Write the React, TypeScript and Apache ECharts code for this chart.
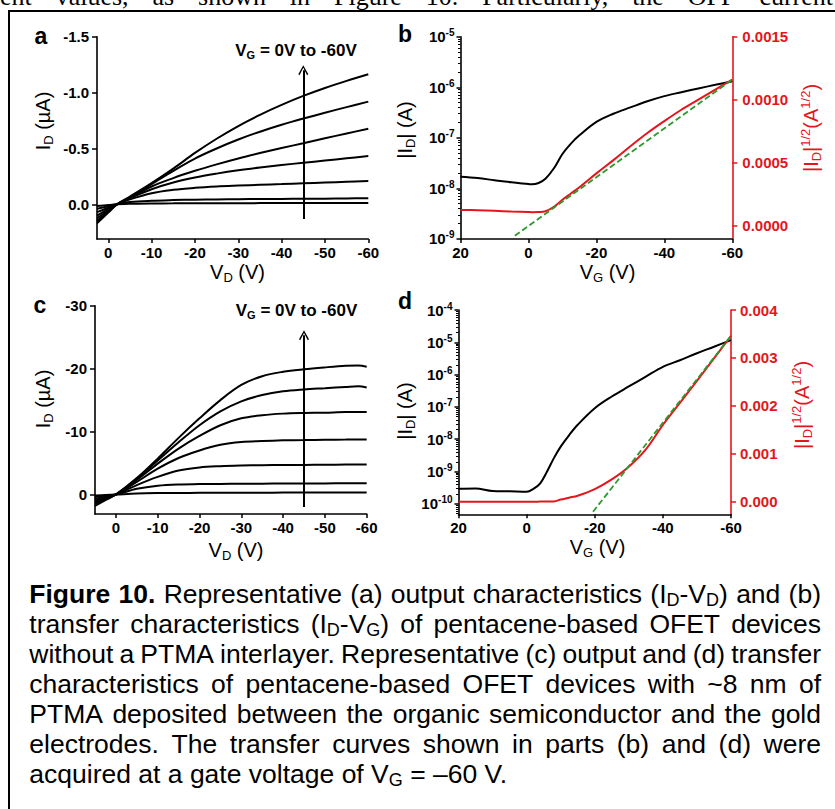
import React, { useEffect, useRef } from 'react';
import * as echarts from 'echarts';

const FONT = '"Liberation Sans", Arial, Helvetica, sans-serif';
const SERIF = '"Liberation Serif", "Times New Roman", serif';
const RED = '#e4161c';
const GREEN = '#2e9a2e';
const BLACK = '#000000';

// ---------- Panel a : output characteristics, no PTMA (I_D µA vs V_D V) ----------
const A_VD = [2.6, 0, -2, -5, -10, -15, -20, -25, -30, -35, -40, -45, -50, -55, -60];
const A_ID_VG0 = [0.015, 0.006, 0, -0.005, -0.008, -0.009, -0.01, -0.01, -0.01, -0.011, -0.011, -0.011, -0.012, -0.012, -0.012];
const A_ID_VG10 = [0.04, 0.017, 0, -0.02, -0.032, -0.038, -0.042, -0.044, -0.046, -0.048, -0.049, -0.05, -0.051, -0.053, -0.055];
const A_ID_VG20 = [0.07, 0.03, 0, -0.045, -0.1, -0.13, -0.148, -0.16, -0.168, -0.175, -0.181, -0.188, -0.195, -0.202, -0.209];
const A_ID_VG30 = [0.1, 0.043, 0, -0.055, -0.135, -0.195, -0.24, -0.275, -0.305, -0.33, -0.352, -0.372, -0.392, -0.412, -0.432];
const A_ID_VG40 = [0.125, 0.054, 0, -0.06, -0.16, -0.235, -0.3, -0.358, -0.411, -0.459, -0.504, -0.547, -0.591, -0.634, -0.677];
const A_ID_VG50 = [0.15, 0.065, 0, -0.065, -0.18, -0.3, -0.41, -0.5, -0.58, -0.65, -0.712, -0.768, -0.82, -0.87, -0.919];
const A_ID_VG60 = [0.17, 0.074, 0, -0.07, -0.19, -0.32, -0.46, -0.587, -0.701, -0.801, -0.89, -0.97, -1.041, -1.105, -1.164];
const A_CURVES = [A_ID_VG0, A_ID_VG10, A_ID_VG20, A_ID_VG30, A_ID_VG40, A_ID_VG50, A_ID_VG60];
const A_X_TICKS = [0, -10, -20, -30, -40, -50, -60];
const A_Y_TICKS = [-1.5, -1.0, -0.5, 0.0];
const A_ARROW = { vd: -45, from: 0.13, to: -1.2 };

// ---------- Panel b : transfer, no PTMA ----------
const B_VG = [20, 15, 10, 5, 0, -1, -3, -5, -7.5, -10, -12.5, -15, -20, -25, -30, -35, -40, -45, -50, -55, -60];
const B_ID = [1.7e-8, 1.6e-8, 1.45e-8, 1.32e-8, 1.22e-8, 1.2e-8, 1.28e-8, 1.55e-8, 2.5e-8, 4.8e-8, 7.7e-8, 1.12e-7, 2.07e-7, 3.0e-7, 4.0e-7, 5.3e-7, 6.7e-7, 8.0e-7, 9.5e-7, 1.12e-6, 1.32e-6];
const B_SQRT = [1.25e-4, 1.22e-4, 1.18e-4, 1.12e-4, 1.08e-4, 1.07e-4, 1.08e-4, 1.14e-4, 1.5e-4, 2.05e-4, 2.55e-4, 3.05e-4, 4.15e-4, 5.2e-4, 6.3e-4, 7.35e-4, 8.3e-4, 9.2e-4, 1.0e-3, 1.08e-3, 1.16e-3];
const B_FIT_VG = [4, -60];
const B_FIT = [-0.00008, 0.00116];
const B_X_TICKS = [20, 0, -20, -40, -60];
const B_LOG_TICKS = [1e-9, 1e-8, 1e-7, 1e-6, 1e-5];
const B_R_TICKS = [0, 0.0005, 0.001, 0.0015];

// ---------- Panel c : output characteristics, with PTMA ----------
const C_VD = [5, 2.5, 0, -5, -10, -15, -20, -25, -30, -35, -40, -45, -50, -55, -58, -60];
const C_ID_VG0 = [0.15, 0.07, 0, -0.15, -0.22, -0.25, -0.26, -0.27, -0.28, -0.29, -0.3, -0.3, -0.31, -0.31, -0.32, -0.32];
const C_ID_VG10 = [0.4, 0.2, 0, -0.9, -1.4, -1.6, -1.65, -1.68, -1.7, -1.72, -1.74, -1.75, -1.76, -1.78, -1.8, -1.8];
const C_ID_VG20 = [0.7, 0.35, 0, -1.5, -2.8, -3.8, -4.3, -4.5, -4.6, -4.65, -4.68, -4.7, -4.72, -4.75, -4.77, -4.77];
const C_ID_VG30 = [1.0, 0.5, 0, -2.0, -4.1, -5.8, -7.0, -7.9, -8.35, -8.5, -8.6, -8.65, -8.7, -8.72, -8.75, -8.75];
const C_ID_VG40 = [1.25, 0.6, 0, -2.3, -4.9, -7.3, -9.3, -11.0, -12.1, -12.6, -12.85, -12.95, -13.0, -13.1, -13.1, -13.1];
const C_ID_VG50 = [1.5, 0.75, 0, -2.5, -5.4, -8.3, -11.0, -13.2, -14.8, -15.8, -16.4, -16.7, -16.9, -17.1, -17.2, -17.0];
const C_ID_VG60 = [1.8, 0.9, 0, -2.6, -5.7, -9.0, -12.1, -15.0, -17.4, -18.8, -19.5, -19.9, -20.2, -20.45, -20.5, -20.3];
const C_CURVES = [C_ID_VG0, C_ID_VG10, C_ID_VG20, C_ID_VG30, C_ID_VG40, C_ID_VG50, C_ID_VG60];
const C_X_TICKS = [0, -10, -20, -30, -40, -50, -60];
const C_Y_TICKS = [-30, -20, -10, 0];
const C_ARROW = { vd: -45, from: 2.0, to: -25.3 };

// ---------- Panel d : transfer, with PTMA ----------
const D_VG = [20, 15, 10, 5, 0, -2, -4, -6, -8, -10, -12.5, -15, -20, -25, -30, -35, -40, -45, -50, -55, -60];
const D_ID = [2.9e-10, 3.0e-10, 2.5e-10, 2.45e-10, 2.35e-10, 2.9e-10, 4.3e-10, 1.0e-9, 2.6e-9, 5.9e-9, 1.35e-8, 2.8e-8, 9.1e-8, 2.1e-7, 4.3e-7, 8.7e-7, 1.75e-6, 2.8e-6, 4.6e-6, 7.3e-6, 1.17e-5];
const D_SQRT = [0, 0, 0, 0, 0, 0, 0.000002, 0.000004, 0.000006, 0.000045, 0.000084, 0.000125, 0.000264, 0.000466, 0.00073, 0.00109, 0.0016, 0.00206, 0.00252, 0.00299, 0.00346];
const D_FIT_VG = [-19.5, -60];
const D_FIT = [-0.00021, 0.00346];
const D_X_TICKS = [20, 0, -20, -40, -60];
const D_LOG_TICKS = [1e-10, 1e-9, 1e-8, 1e-7, 1e-6, 1e-5, 1e-4];
const D_R_TICKS = [0, 0.001, 0.002, 0.003, 0.004];

const TOP_TEXT = 'ent values, as shown in Figure 10. Particularly, the OFF current';
const CAPTION_LINES = [
  '*Figure *10. Representative (a) output characteristics (I{s|D}-V{s|D}) and (b)',
  'transfer characteristics (I{s|D}-V{s|G}) of pentacene-based OFET devices',
  'without a PTMA interlayer. Representative (c) output and (d) transfer',
  'characteristics of pentacene-based OFET devices with ~8 nm of',
  'PTMA deposited between the organic semiconductor and the gold',
  'electrodes. The transfer curves shown in parts (b) and (d) were',
  'acquired at a gate voltage of V{s|G} = \u201360 V.',
];

const minorLogTicks = (lo: number, hi: number) => {
  const out: number[] = [];
  for (let e = lo; e < hi; e++) for (let k = 2; k <= 9; k++) out.push(k * Math.pow(10, e));
  return out;
};

const tickLabel = {
  color: BLACK, fontSize: 15, fontWeight: 'bold' as const, fontFamily: FONT,
};

function xAxis(gridIndex: number, min: number, max: number, ticks: number[]) {
  return {
    type: 'value', gridIndex, min, max, inverse: true,
    axisLine: { show: true, onZero: false, lineStyle: { color: BLACK, width: 1.6 } },
    axisTick: { show: true, inside: false, length: 4, customValues: ticks, lineStyle: { color: BLACK, width: 1.5 } },
    axisLabel: { ...tickLabel, margin: 6, customValues: ticks, formatter: (v: number) => String(v) },
    splitLine: { show: false },
  };
}

function yValueAxis(gridIndex: number, min: number, max: number, ticks: number[], fmt: (v: number) => string, opts: any = {}) {
  const color = opts.color || BLACK;
  return {
    type: 'value', gridIndex, min, max, inverse: !!opts.inverse, position: opts.position || 'left',
    axisLine: { show: true, onZero: false, lineStyle: { color, width: 1.6 } },
    axisTick: { show: true, inside: false, length: opts.tickLen ?? 5, customValues: ticks, lineStyle: { color, width: 1.5 } },
    axisLabel: { ...tickLabel, color, margin: opts.margin ?? 8, customValues: ticks, formatter: fmt },
    splitLine: { show: false },
  };
}

function yLogAxis(gridIndex: number, min: number, max: number, ticks: number[]) {
  return {
    type: 'log', logBase: 10, gridIndex, min, max, position: 'left',
    axisLine: { show: true, onZero: false, lineStyle: { color: BLACK, width: 1.6 } },
    axisTick: { show: true, inside: false, length: 4, customValues: ticks, lineStyle: { color: BLACK, width: 1.5 } },
    axisLabel: {
      margin: 6, customValues: ticks,
      formatter: (v: number) => `{t|10}{e|${Math.round(Math.log10(v))}}`,
      rich: {
        t: { ...tickLabel, lineHeight: 18 },
        e: { ...tickLabel, fontSize: 10, lineHeight: 10, verticalAlign: 'top' },
      },
    },
    splitLine: { show: false },
  };
}

function yLogMinor(gridIndex: number, min: number, max: number, ticks: number[]) {
  return {
    type: 'log', logBase: 10, gridIndex, min, max, position: 'left',
    axisLine: { show: false, onZero: false },
    axisTick: { show: true, inside: false, length: 2.5, customValues: ticks, lineStyle: { color: BLACK, width: 1 } },
    axisLabel: { show: false },
    splitLine: { show: false },
  };
}

const line = (name: string, xs: number[], ys: number[], xi: number, yi: number, color: string, width: number, extra: any = {}) => ({
  type: 'line', name, xAxisIndex: xi, yAxisIndex: yi,
  data: xs.map((x, i) => [x, ys[i]]),
  showSymbol: false, symbol: 'none', smooth: 0.35, silent: true,
  lineStyle: { color, width }, ...extra,
});

const arrowMark = (a: { vd: number; from: number; to: number }) => ({
  silent: true,
  symbol: ['none', 'path://M0,9 L5,0 L10,9 L8.8,10 L5,2.6 L1.2,10 Z'],
  symbolSize: [10, 10],
  lineStyle: { color: BLACK, width: 2, type: 'solid' },
  label: { show: false },
  data: [[{ coord: [a.vd, a.from] }, { coord: [a.vd, a.to] }]],
});

// ---------- text helpers ----------
const sizeRich = (size: number, sub: number, color: string, bold = false) => ({
  n: { fontSize: size, fontFamily: FONT, fontWeight: bold ? 'bold' : 'normal', fill: color, lineHeight: size + 4 },
  s: { fontSize: sub, fontFamily: FONT, fontWeight: bold ? 'bold' : 'normal', fill: color, lineHeight: sub, verticalAlign: 'bottom' },
  p: { fontSize: sub, fontFamily: FONT, fontWeight: bold ? 'bold' : 'normal', fill: color, lineHeight: sub, verticalAlign: 'top' },
});

const label = (x: number, y: number, text: string, size: number, sub: number, opts: any = {}) => ({
  type: 'text', x, y, rotation: opts.rotation || 0, silent: true, z: 10,
  style: {
    text, rich: sizeRich(size, sub, opts.color || BLACK, !!opts.bold),
    align: 'center', verticalAlign: 'middle',
  },
});

const CAP_SIZE = 26.5;
const CAP_SUB = 18;
const CAP_LEFT = 29.3;
const CAP_RIGHT = 821;
const CAP_BASE0 = 603.5;
const CAP_PITCH = 29.9;

function splitParts(word: string) {
  return word.split(/(\{s\|[^}]*\})/).filter(Boolean);
}

function measureWord(ctx: CanvasRenderingContext2D, word: string, bold: boolean, size: number, sub: number, family: string) {
  let w = 0;
  for (const p of splitParts(word)) {
    const m = p.match(/^\{s\|([^}]*)\}$/);
    ctx.font = `${bold ? 'bold ' : ''}${m ? sub : size}px ${family}`;
    w += ctx.measureText(m ? m[1] : p).width;
  }
  return w;
}

function richWord(word: string, bold: boolean) {
  return splitParts(word).map(p => (/^\{s\|/.test(p) ? p : `{${bold ? 'b' : 'n'}|${p}}`)).join('');
}

function captionElements() {
  const ctx = document.createElement('canvas').getContext('2d')!;
  const rich = {
    n: { fontSize: CAP_SIZE, fontFamily: FONT, fill: BLACK, lineHeight: 30 },
    b: { fontSize: CAP_SIZE, fontFamily: FONT, fontWeight: 'bold', fill: BLACK, lineHeight: 30 },
    s: { fontSize: CAP_SUB, fontFamily: FONT, fill: BLACK, lineHeight: 22, verticalAlign: 'bottom' },
  };
  const els: any[] = [];
  CAPTION_LINES.forEach((ln, li) => {
    const words = ln.split(' ').map(w => {
      const bold = w.startsWith('*');
      const t = bold ? w.slice(1) : w;
      return { t, bold, w: measureWord(ctx, t, bold, CAP_SIZE, CAP_SUB, FONT) };
    });
    const total = words.reduce((s, w) => s + w.w, 0);
    ctx.font = `${CAP_SIZE}px ${FONT}`;
    const spaceW = ctx.measureText(' ').width;
    const justify = li < CAPTION_LINES.length - 1;
    const gap = justify ? (CAP_RIGHT - CAP_LEFT - total) / (words.length - 1) : spaceW;
    const y = CAP_BASE0 + li * CAP_PITCH - 0.3465 * CAP_SIZE;
    let x = CAP_LEFT;
    words.forEach(w => {
      els.push({
        type: 'text', x, y, silent: true, z: 10,
        style: { text: richWord(w.t, w.bold), rich, align: 'left', verticalAlign: 'middle' },
      });
      x += w.w + gap;
    });
  });
  // cut-off running text above the figure box
  const words = TOP_TEXT.split(' ');
  const size = 26;
  const widths = words.map(w => measureWord(ctx, w, false, size, size, SERIF));
  const total = widths.reduce((s, v) => s + v, 0);
  const gap = (833 - 0 - total) / (words.length - 1);
  let x = 0;
  words.forEach((w, i) => {
    els.push({
      type: 'text', x, y: 5.5 - 0.3375 * size, silent: true, z: 10,
      style: { text: w, fontSize: size, fontFamily: SERIF, fill: BLACK, align: 'left', verticalAlign: 'middle' },
    });
    x += widths[i] + gap;
  });
  return els;
}

function buildOption() {
  const grid = (left: number, top: number, width: number, height: number) => ({
    left, top, width, height, containLabel: false, outerBoundsMode: 'none', show: false,
  });

  const series: any[] = [];
  A_CURVES.forEach((ys, i) => {
    series.push(line(`a VG=${-10 * i} V`, A_VD, ys, 0, 0, BLACK, 2, i === A_CURVES.length - 1 ? { markLine: arrowMark(A_ARROW) } : {}));
  });
  series.push(line('b |ID|', B_VG, B_ID, 1, 1, BLACK, 2));
  series.push(line('b |ID|^1/2', B_VG, B_SQRT, 1, 3, RED, 2));
  series.push(line('b fit', B_FIT_VG, B_FIT, 1, 3, GREEN, 1.8, { smooth: false, lineStyle: { color: GREEN, width: 1.8, type: [6, 3] } }));
  C_CURVES.forEach((ys, i) => {
    series.push(line(`c VG=${-10 * i} V`, C_VD, ys, 2, 4, BLACK, 2, i === C_CURVES.length - 1 ? { markLine: arrowMark(C_ARROW) } : {}));
  });
  series.push(line('d |ID|', D_VG, D_ID, 3, 5, BLACK, 2));
  series.push(line('d |ID|^1/2', D_VG, D_SQRT, 3, 7, RED, 2));
  series.push(line('d fit', D_FIT_VG, D_FIT, 3, 7, GREEN, 1.8, { smooth: false, lineStyle: { color: GREEN, width: 1.8, type: [6, 3] } }));

  const graphics: any[] = [
    // figure frame (top and left edges visible)
    { type: 'line', silent: true, shape: { x1: 8.5, y1: 11, x2: 835, y2: 11 }, style: { stroke: BLACK, lineWidth: 2 } },
    { type: 'line', silent: true, shape: { x1: 9, y1: 10, x2: 9, y2: 809 }, style: { stroke: BLACK, lineWidth: 2 } },
    // panel letters
    { type: 'text', x: 41, y: 36, silent: true, style: { text: 'a', fontSize: 23, fontWeight: 'bold', fontFamily: FONT, fill: BLACK, align: 'center', verticalAlign: 'middle' } },
    { type: 'text', x: 405, y: 34, silent: true, style: { text: 'b', fontSize: 23, fontWeight: 'bold', fontFamily: FONT, fill: BLACK, align: 'center', verticalAlign: 'middle' } },
    { type: 'text', x: 40, y: 305, silent: true, style: { text: 'c', fontSize: 23, fontWeight: 'bold', fontFamily: FONT, fill: BLACK, align: 'center', verticalAlign: 'middle' } },
    { type: 'text', x: 405, y: 301, silent: true, style: { text: 'd', fontSize: 23, fontWeight: 'bold', fontFamily: FONT, fill: BLACK, align: 'center', verticalAlign: 'middle' } },
    // annotations
    label(296, 50, '{n|V}{s|G}{n| = 0V to -60V}', 17, 11, { bold: true }),
    label(296.5, 310, '{n|V}{s|G}{n| = 0V to -60V}', 17, 11, { bold: true }),
    // axis titles a
    label(43, 121, '{n|I}{s|D}{n| (\u00b5A)}', 20, 13, { rotation: Math.PI / 2 }),
    label(237.5, 272, '{n|V}{s|D}{n| (V)}', 20, 13),
    // b
    label(405, 130, '{n||I}{s|D}{n|| (A)}', 20, 13, { rotation: Math.PI / 2 }),
    label(811, 128, '{n||I}{s|D}{n||}{p|1/2}{n|(A}{p|1/2}{n|)}', 20, 13, { rotation: Math.PI / 2, color: RED }),
    label(607.5, 272, '{n|V}{s|G}{n| (V)}', 20, 13),
    // c
    label(43, 399, '{n|I}{s|D}{n| (\u00b5A)}', 20, 13, { rotation: Math.PI / 2 }),
    label(236, 550, '{n|V}{s|D}{n| (V)}', 20, 13),
    // d
    label(405, 411, '{n||I}{s|D}{n|| (A)}', 20, 13, { rotation: Math.PI / 2 }),
    label(802, 405, '{n||I}{s|D}{n||}{p|1/2}{n|(A}{p|1/2}{n|)}', 20, 13, { rotation: Math.PI / 2, color: RED }),
    label(597.5, 547, '{n|V}{s|G}{n| (V)}', 20, 13),
    ...captionElements(),
  ];

  return {
    animation: false,
    backgroundColor: '#ffffff',
    grid: [
      grid(97, 36.7, 271.3, 202.3),
      grid(460.5, 36.7, 271.8, 202.3),
      grid(95, 305.7, 271.7, 208.3),
      grid(458.5, 310, 272.5, 204.3),
    ],
    xAxis: [
      xAxis(0, -60, 2.6, A_X_TICKS),
      xAxis(1, -60, 20, B_X_TICKS),
      xAxis(2, -60, 5, C_X_TICKS),
      xAxis(3, -60, 20, D_X_TICKS),
    ],
    yAxis: [
      yValueAxis(0, -1.5, 0.31, A_Y_TICKS, v => v.toFixed(1), { inverse: true }),
      yLogAxis(1, 0.995e-9, 1.005e-5, B_LOG_TICKS),
      yLogMinor(1, 0.995e-9, 1.005e-5, minorLogTicks(-9, -5)),
      yValueAxis(1, -0.000106, 0.0015, B_R_TICKS, v => v.toFixed(4), { position: 'right', color: RED, margin: 10 }),
      yValueAxis(2, -30, 3.1, C_Y_TICKS, v => String(v), { inverse: true }),
      yLogAxis(3, 4.73e-11, 1.004e-4, D_LOG_TICKS),
      yLogMinor(3, 4.73e-11, 1.004e-4, minorLogTicks(-11, -4).filter(v => v > 4.73e-11)),
      yValueAxis(3, -0.000263, 0.004, D_R_TICKS, v => v.toFixed(3), { position: 'right', color: RED, margin: 9 }),
    ],
    series,
    graphic: { elements: graphics },
  };
}

export default function App() {
  const ref = useRef<HTMLDivElement>(null);
  useEffect(() => {
    const el = ref.current!;
    const chart = echarts.init(el, null, { renderer: 'svg', width: 835, height: 809 });
    chart.setOption(buildOption() as any);
    return () => chart.dispose();
  }, []);
  return (
    <div
      ref={ref}
      style={{ position: 'fixed', left: 0, top: 0, width: 835, height: 809, background: '#ffffff' }}
    />
  );
}
